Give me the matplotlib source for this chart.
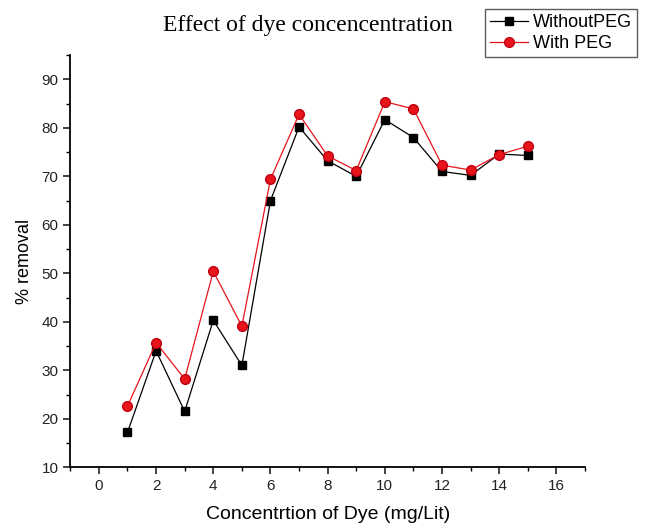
import numpy as np
import matplotlib.pyplot as plt
from matplotlib.ticker import MultipleLocator

conc = [1, 2, 3, 4, 5, 6, 7, 8, 9, 10, 11, 12, 13, 14, 15]
without_peg = [17.2, 34.0, 21.5, 40.3, 31.0, 65.0, 80.2, 73.2, 70.0, 81.7, 78.0, 71.0, 70.2, 74.6, 74.3]
with_peg = [22.6, 35.7, 28.2, 50.4, 39.1, 69.4, 82.8, 74.2, 71.2, 85.4, 83.9, 72.3, 71.3, 74.5, 76.2]

plt.rcParams['font.family'] = ['Liberation Sans', 'DejaVu Sans']

fig = plt.figure(figsize=(6.45, 5.25), dpi=100)
ax = fig.add_axes([0.109, 0.110, 0.798, 0.785])

ax.plot(conc, without_peg, '-s', color='black', lw=0.9, ms=6, label='WithoutPEG')
ax.plot(conc, with_peg, '-o', color='#e8141c', mec='#c00010', lw=0.9, ms=7, label='With PEG')

ax.set_xlim(-1, 17)
ax.set_ylim(10, 95)
ax.xaxis.set_major_locator(MultipleLocator(2))
ax.xaxis.set_minor_locator(MultipleLocator(1))
ax.yaxis.set_major_locator(MultipleLocator(10))
ax.yaxis.set_minor_locator(MultipleLocator(5))
ax.tick_params(which='major', direction='out', length=5, width=1.2, labelsize=11, colors='#222222')
ax.tick_params(which='minor', direction='out', length=3, width=1)
for s in ['top', 'right']:
    ax.spines[s].set_visible(False)
for s in ['left', 'bottom']:
    ax.spines[s].set_linewidth(1.3)

ax.set_xlabel('Concentrtion of Dye (mg/Lit)', fontsize=14, labelpad=9)
ax.set_ylabel('% removal', fontsize=13, labelpad=6)

fig.text(0.478, 0.952, 'Effect of dye concencentration', ha='center', va='center',
         fontsize=17, family=['Liberation Serif', 'DejaVu Serif'])

leg = fig.legend(loc='upper left', bbox_to_anchor=(0.752, 0.983), fontsize=13,
                 frameon=True, fancybox=False, edgecolor='#333333',
                 handlelength=2.1, handletextpad=0.25, borderpad=0.3, labelspacing=0.2,
                 borderaxespad=0)
leg.get_frame().set_linewidth(1.0)

fig.savefig('out.png', dpi=100)
